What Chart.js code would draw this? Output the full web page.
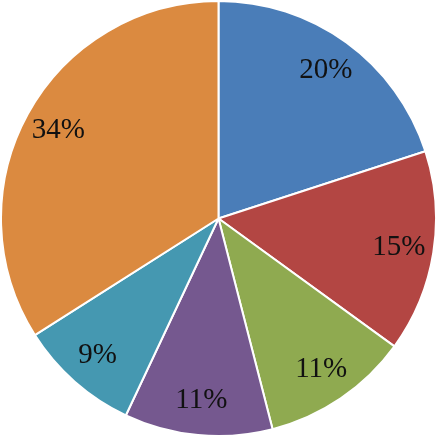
<!DOCTYPE html>
<html>
<head>
<meta charset="utf-8">
<script src="https://cdn.jsdelivr.net/npm/chart.js@4"></script>
<style>
  html, body { margin: 0; padding: 0; background: #fff; }
  #wrap { width: 437px; height: 437px; }
</style>
</head>
<body>
<div id="wrap"><canvas id="pieChart"></canvas></div>
<script>
// slice data, clockwise from 12 o'clock
const categories = ['A', 'B', 'C', 'D', 'E', 'F'];
const shares = [20, 15, 11, 11, 9, 34];
const sliceColors = ['#4A7DB8', '#B34643', '#8FAA50', '#75588F', '#4598B1', '#DB8A40'];

// percent labels inside each slice
const pctLabels = {
    id: 'pctLabels',
    afterDatasetsDraw(chart) {
        const ctx = chart.ctx;
        const meta = chart.getDatasetMeta(0);
        ctx.save();
        ctx.font = '29px "Liberation Serif", "Times New Roman", serif';
        ctx.fillStyle = '#111';
        ctx.textAlign = 'center';
        ctx.textBaseline = 'middle';
        meta.data.forEach((arc, i) => {
            const p = arc.getProps(['x', 'y', 'startAngle', 'endAngle', 'outerRadius'], true);
            const mid = (p.startAngle + p.endAngle) / 2;
            const r = p.outerRadius * 0.84;
            ctx.fillText(shares[i] + '%', p.x + Math.cos(mid) * r, p.y + Math.sin(mid) * r);
        });
        ctx.restore();
    }
};

new Chart(document.getElementById('pieChart'), {
    type: 'pie',
    data: {
        labels: categories,
        datasets: [{
            data: shares,
            backgroundColor: sliceColors,
            borderColor: '#fff',
            borderWidth: 2
        }]
    },
    options: {
        responsive: true,
        maintainAspectRatio: false,
        animation: false,
        layout: { padding: 0 },
        plugins: {
            legend: { display: false },
            tooltip: { enabled: false }
        }
    },
    plugins: [pctLabels]
});
</script>
</body>
</html>
